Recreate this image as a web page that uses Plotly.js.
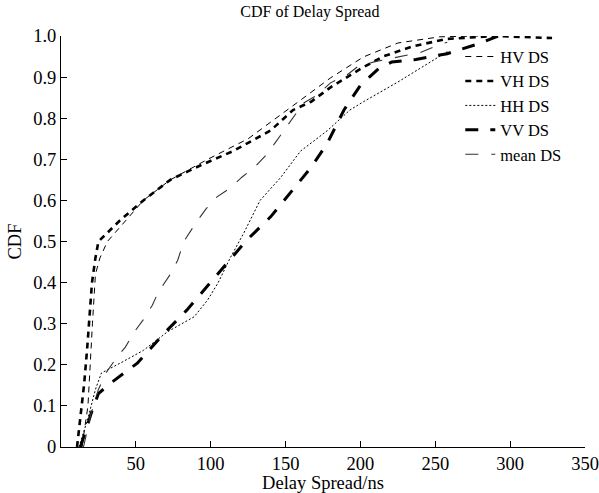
<!DOCTYPE html>
<html>
<head>
<meta charset="utf-8">
<script src="https://cdn.plot.ly/plotly-3.0.1.min.js"></script>
<style>html,body{margin:0;padding:0;background:#fff;}#chart{width:599px;height:493px;}</style>
</head>
<body>
<div id="chart"></div>
<script>
// HV DS (thin dash)
const hvX = [14, 18, 21, 23, 26, 31, 43, 55, 73, 98, 125, 142, 160, 180, 202, 225, 253, 280];
const hvY = [0, 0.1, 0.3, 0.42, 0.46, 0.5, 0.55, 0.6, 0.65, 0.7, 0.75, 0.795, 0.844, 0.898, 0.949, 0.983, 0.998, 1.0];
// VH DS (thick dash)
const vhX = [10.7, 15.5, 17.4, 20.7, 23, 25, 39, 55, 73, 93, 115, 140, 155, 167, 180, 200, 215, 235, 258, 290, 328];
const vhY = [0, 0.155, 0.236, 0.4, 0.46, 0.5, 0.55, 0.6, 0.65, 0.685, 0.72, 0.77, 0.82, 0.84, 0.875, 0.92, 0.95, 0.975, 0.993, 1.0, 0.995];
// HH DS (dotted)
const hhX = [12, 18, 23, 27, 40, 55, 71, 89, 98, 105, 113, 122, 133, 147, 160, 178, 193, 202, 225, 247, 258];
const hhY = [0, 0.07, 0.14, 0.18, 0.205, 0.235, 0.28, 0.317, 0.358, 0.4, 0.46, 0.52, 0.6, 0.657, 0.72, 0.77, 0.82, 0.84, 0.888, 0.937, 0.962];
// VV DS (thick long dash)
const vvX = [13, 20, 25, 33, 51, 69, 84, 100, 111, 124, 140, 153, 167, 178, 189, 200, 212, 221, 237, 258, 278, 292];
const vvY = [0, 0.08, 0.13, 0.155, 0.204, 0.277, 0.333, 0.4, 0.447, 0.503, 0.56, 0.617, 0.68, 0.74, 0.82, 0.88, 0.92, 0.937, 0.943, 0.957, 0.98, 1.0];
// mean DS (thin long dash)
const meanX = [15, 20, 25, 30, 37, 43, 49, 55, 61, 65, 73, 78, 82, 91, 97, 104, 113, 121, 129, 137, 143, 150, 155, 162, 171, 180, 191, 198, 209, 224, 240, 249, 258];
const meanY = [0, 0.08, 0.14, 0.18, 0.217, 0.243, 0.28, 0.31, 0.345, 0.377, 0.42, 0.455, 0.5, 0.55, 0.58, 0.608, 0.63, 0.657, 0.68, 0.71, 0.74, 0.776, 0.803, 0.837, 0.856, 0.886, 0.905, 0.925, 0.937, 0.948, 0.96, 0.973, 0.985];

const seriesNames = ["HV DS", "VH DS", "HH DS", "VV DS", "mean DS"];
const xTicks = [50, 100, 150, 200, 250, 300, 350];
const yTicks = [0, 0.1, 0.2, 0.3, 0.4, 0.5, 0.6, 0.7, 0.8, 0.9, 1.0];
const yTickText = ["0", "0.1", "0.2", "0.3", "0.4", "0.5", "0.6", "0.7", "0.8", "0.9", "1.0"];

const FONT = "Liberation Serif, Times New Roman, serif";

const traces = [
  {x: hvX, y: hvY, name: seriesNames[0], mode: "lines", line: {color: "#000", width: 1, dash: "6px,5px"}},
  {x: vhX, y: vhY, name: seriesNames[1], mode: "lines", line: {color: "#000", width: 2.6, dash: "6px,5px"}},
  {x: hhX, y: hhY, name: seriesNames[2], mode: "lines", line: {color: "#000", width: 1, dash: "2px,2px"}},
  {x: vvX, y: vvY, name: seriesNames[3], mode: "lines", line: {color: "#000", width: 3, dash: "13px,12px"}},
  {x: meanX, y: meanY, name: seriesNames[4], mode: "lines", line: {color: "#333", width: 1.1, dash: "13px,13px"}}
];

const layout = {
  width: 599, height: 493,
  margin: {l: 61, r: 14, t: 36, b: 46},
  paper_bgcolor: "#fff", plot_bgcolor: "#fff",
  font: {family: FONT, color: "#000", size: 18},
  title: {text: "CDF of Delay Spread", font: {family: FONT, size: 16, color: "#000"},
          xref: "paper", x: 0.475, xanchor: "center", yref: "container", y: 0.976, yanchor: "middle"},
  showlegend: true,
  legend: {x: 0.762, xanchor: "left", y: 0.992, yanchor: "top", bgcolor: "rgba(0,0,0,0)",
           font: {family: FONT, size: 16.5, color: "#000"}, tracegroupgap: 0, itemwidth: 30},
  xaxis: {range: [0, 350], tickvals: xTicks, ticks: "inside", ticklen: 6, tickcolor: "#000",
          showline: true, linecolor: "#000", linewidth: 1, showgrid: false, zeroline: false,
          tickfont: {family: FONT, size: 18.5, color: "#000"},
          title: {text: "Delay Spread/ns", font: {family: FONT, size: 18.5, color: "#000"}, standoff: 2}},
  yaxis: {range: [0, 1], tickvals: yTicks, ticktext: yTickText, ticks: "inside", ticklen: 6, tickcolor: "#000",
          showline: true, linecolor: "#000", linewidth: 1, showgrid: false, zeroline: false,
          tickfont: {family: FONT, size: 18.5, color: "#000"},
          title: {text: "CDF", font: {family: FONT, size: 18.5, color: "#000"}, standoff: 6}}
};

Plotly.newPlot("chart", traces, layout, {displayModeBar: false, staticPlot: true});
</script>
</body>
</html>
